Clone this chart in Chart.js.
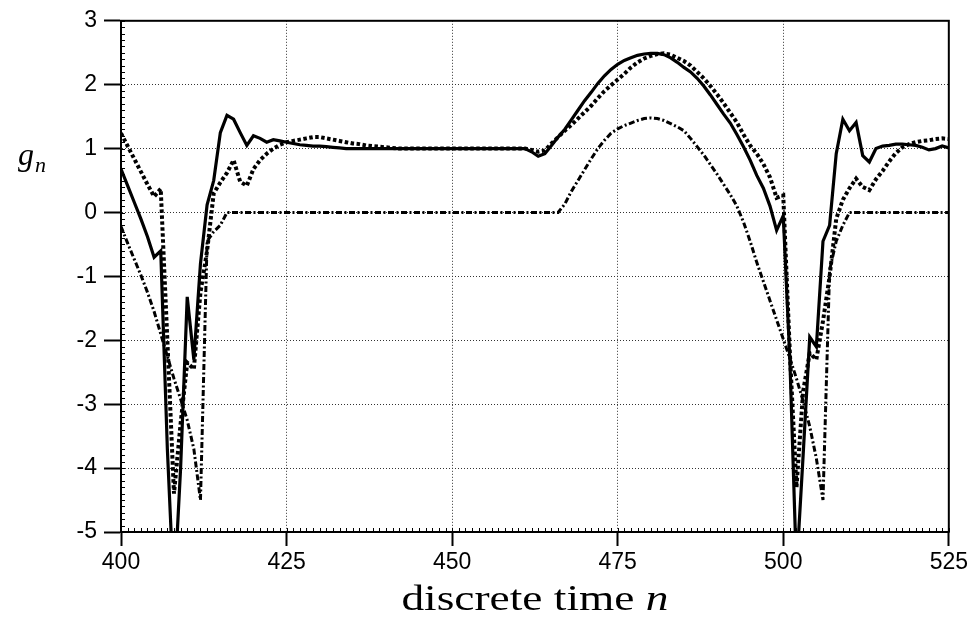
<!DOCTYPE html>
<html>
<head>
<meta charset="utf-8">
<script src="https://cdn.jsdelivr.net/npm/chart.js@4.4.1/dist/chart.umd.min.js"></script>
<style>
  html, body { margin: 0; padding: 0; background: #fff; }
  #wrap { position: relative; width: 971px; height: 624px; }
</style>
</head>
<body>
<div id="wrap"><canvas id="gainChart" width="971" height="624"></canvas></div>
<script>
// discrete time index n
const timeIdx = [
  400, 401, 402, 403, 404, 405, 406, 407, 408, 409, 410, 411, 412, 413, 414, 415, 416, 417, 418, 419,
  420, 421, 422, 423, 424, 425, 426, 427, 428, 429, 430, 431, 432, 433, 434, 435, 436, 437, 438, 439,
  440, 441, 442, 443, 444, 445, 446, 447, 448, 449, 450, 451, 452, 453, 454, 455, 456, 457, 458, 459,
  460, 461, 462, 463, 464, 465, 466, 467, 468, 469, 470, 471, 472, 473, 474, 475, 476, 477, 478, 479,
  480, 481, 482, 483, 484, 485, 486, 487, 488, 489, 490, 491, 492, 493, 494, 495, 496, 497, 498, 499,
  500, 501, 502, 503, 504, 505, 506, 507, 508, 509, 510, 511, 512, 513, 514, 515, 516, 517, 518, 519,
  520, 521, 522, 523, 524, 525
];

// solid curve
const gSolid = [
  0.68, 0.42, 0.16, -0.1, -0.38, -0.7, -0.6, -3.7, -6.0, -4.0, -1.32, -2.3, -0.8, 0.12, 0.5, 1.25, 1.52, 1.46, 1.25, 1.05,
  1.2, 1.16, 1.1, 1.14, 1.12, 1.1, 1.08, 1.06, 1.05, 1.04, 1.04, 1.03, 1.02, 1.01, 1.0, 1.0, 1.0, 1.0, 1.0, 1.0,
  1.0, 1.0, 1.0, 1.0, 1.0, 1.0, 1.0, 1.0, 1.0, 1.0, 1.0, 1.0, 1.0, 1.0, 1.0, 1.0, 1.0, 1.0, 1.0, 1.0,
  1.0, 1.0, 0.95, 0.88, 0.92, 1.05, 1.18, 1.3, 1.45, 1.6, 1.75, 1.88, 2.02, 2.14, 2.24, 2.32, 2.38, 2.42, 2.46, 2.48,
  2.49, 2.49, 2.47, 2.42, 2.35, 2.27, 2.2, 2.1, 1.98, 1.84, 1.69, 1.54, 1.4, 1.22, 1.03, 0.82, 0.58, 0.38, 0.1, -0.28,
  -0.05, -2.3, -5.6, -3.8, -1.95, -2.1, -0.45, -0.2, 0.92, 1.46, 1.28, 1.41, 0.89, 0.79, 1.0, 1.04, 1.05, 1.07, 1.07, 1.06,
  1.05, 1.02, 0.98, 1.0, 1.04, 1.01
];

// dotted curve
const gDotted = [
  1.24, 1.04, 0.84, 0.64, 0.44, 0.25, 0.37, -2.0, -4.4, -3.3, -2.35, -2.45, -1.25, -0.6, 0.3, 0.47, 0.62, 0.82, 0.48, 0.42,
  0.68, 0.82, 0.92, 1.0, 1.06, 1.1, 1.12, 1.14, 1.16, 1.18, 1.18, 1.16, 1.14, 1.12, 1.1, 1.08, 1.07, 1.05, 1.04, 1.03,
  1.02, 1.01, 1.0, 1.0, 1.0, 1.0, 1.0, 1.0, 1.0, 1.0, 1.0, 1.0, 1.0, 1.0, 1.0, 1.0, 1.0, 1.0, 1.0, 1.0,
  1.0, 1.0, 0.98, 0.95, 0.97, 1.08, 1.18, 1.28, 1.37, 1.47, 1.57, 1.67, 1.79, 1.9, 1.99, 2.08, 2.17, 2.27, 2.35, 2.41,
  2.45, 2.48, 2.49, 2.47, 2.42, 2.37, 2.3, 2.2, 2.1, 1.98, 1.85, 1.71, 1.56, 1.41, 1.22, 1.05, 0.92, 0.76, 0.55, 0.23,
  0.27, -2.2, -4.3, -2.8, -2.2, -2.3, -1.7, -1.0, -0.1, 0.2, 0.38, 0.53, 0.4, 0.35, 0.52, 0.65, 0.8, 0.93, 1.02, 1.07,
  1.1, 1.12, 1.13, 1.15, 1.16, 1.15
];

// dash-dot curve
const gDashDot = [
  -0.22, -0.48, -0.73, -0.98, -1.25, -1.55, -1.9, -2.25, -2.6, -2.92, -3.25, -3.7, -4.5, -0.45, -0.3, -0.2, 0.0, 0.0, 0.0, 0.0,
  0.0, 0.0, 0.0, 0.0, 0.0, 0.0, 0.0, 0.0, 0.0, 0.0, 0.0, 0.0, 0.0, 0.0, 0.0, 0.0, 0.0, 0.0, 0.0, 0.0,
  0.0, 0.0, 0.0, 0.0, 0.0, 0.0, 0.0, 0.0, 0.0, 0.0, 0.0, 0.0, 0.0, 0.0, 0.0, 0.0, 0.0, 0.0, 0.0, 0.0,
  0.0, 0.0, 0.0, 0.0, 0.0, 0.0, 0.0, 0.13, 0.33, 0.5, 0.67, 0.84, 1.0, 1.13, 1.24, 1.31, 1.36, 1.4, 1.44, 1.47,
  1.48, 1.47, 1.44, 1.39, 1.34, 1.28, 1.16, 1.03, 0.9, 0.75, 0.6, 0.44, 0.28, 0.1, -0.15, -0.45, -0.78, -1.08, -1.38, -1.68,
  -1.98, -2.28, -2.6, -2.95, -3.35, -3.85, -4.5, -0.9, -0.45, -0.2, 0.0, 0.0, 0.0, 0.0, 0.0, 0.0, 0.0, 0.0, 0.0, 0.0,
  0.0, 0.0, 0.0, 0.0, 0.0, 0.0
];

const xTicks = [400, 425, 450, 475, 500, 525];
const yTicks = [3, 2, 1, 0, -1, -2, -3, -4, -5];

const toPoints = arr => arr.map((v, i) => ({ x: timeIdx[i], y: v }));

// frame, minor ticks and axis texts
const frameAndLabels = {
    id: 'frameAndLabels',
    afterDraw(chart) {
        const { ctx, chartArea: a, scales } = chart;
        ctx.save();

        // minor ticks inside the frame
        ctx.strokeStyle = '#000';
        ctx.lineWidth = 1;
        ctx.beginPath();
        for (let k = -50; k <= 30; k++) {
            const y = Math.round(scales.y.getPixelForValue(k / 10)) + 0.5;
            ctx.moveTo(a.left, y);
            ctx.lineTo(a.left + 4, y);
        }
        for (let n = 400; n <= 525; n++) {
            const x = Math.round(scales.x.getPixelForValue(n)) + 0.5;
            ctx.moveTo(x, a.bottom);
            ctx.lineTo(x, a.bottom - 4);
        }
        ctx.stroke();

        // box
        ctx.lineWidth = 2;
        ctx.strokeRect(a.left, a.top, a.right - a.left, a.bottom - a.top);

        // x title: "discrete time n" (slightly widened serif)
        ctx.fillStyle = '#000';
        ctx.textBaseline = 'alphabetic';
        const fontUp = '36px "Liberation Serif"';
        const fontIt = 'italic 36px "Liberation Serif"';
        const stretch = 1.26;
        ctx.font = fontUp;
        const w1 = ctx.measureText('discrete time ').width;
        ctx.font = fontIt;
        const w2 = ctx.measureText('n').width;
        const x0 = (a.left + a.right) / 2 - stretch * (w1 + w2) / 2;
        ctx.save();
        ctx.translate(x0, 610);
        ctx.scale(stretch, 1);
        ctx.font = fontUp;
        ctx.fillText('discrete time ', 0, 0);
        ctx.font = fontIt;
        ctx.fillText('n', w1, 0);
        ctx.restore();

        // y title: g_n
        ctx.font = 'italic 32px "Liberation Serif"';
        ctx.fillText('g', 18, 165);
        const gw = ctx.measureText('g').width;
        ctx.font = 'italic 22px "Liberation Serif"';
        ctx.fillText('n', 18 + gw + 1, 172);

        ctx.restore();
    }
};

const ctx = document.getElementById('gainChart').getContext('2d');

new Chart(ctx, {
    type: 'line',
    data: {
        datasets: [
            {
                label: 'solid',
                data: toPoints(gSolid),
                borderColor: '#000',
                borderWidth: 3.2,
                pointRadius: 0,
                tension: 0,
                fill: false
            },
            {
                label: 'dotted',
                data: toPoints(gDotted),
                borderColor: '#000',
                borderWidth: 4,
                borderDash: [3.5, 2.5],
                pointRadius: 0,
                tension: 0,
                fill: false
            },
            {
                label: 'dashdot',
                data: toPoints(gDashDot),
                borderColor: '#000',
                borderWidth: 3,
                borderDash: [6, 2.5, 2, 2.5],
                pointRadius: 0,
                tension: 0,
                fill: false
            }
        ]
    },
    options: {
        responsive: false,
        animation: false,
        devicePixelRatio: 1,
        layout: { padding: { left: 0, right: 22, top: 20, bottom: 0 } },
        plugins: {
            legend: { display: false },
            tooltip: { enabled: false }
        },
        scales: {
            x: {
                type: 'linear',
                min: 400,
                max: 525,
                afterBuildTicks: scale => { scale.ticks = xTicks.map(v => ({ value: v })); },
                afterFit: scale => { scale.height = 92; },
                grid: {
                    color: '#333',
                    lineWidth: 1,
                    tickLength: 14,
                    tickColor: '#000',
                    tickWidth: 2
                },
                border: { display: true, color: '#000', width: 2, dash: [1, 2] },
                ticks: {
                    color: '#000',
                    padding: 3,
                    maxRotation: 0,
                    font: { family: '"Liberation Sans", Arial, sans-serif', size: 23 }
                }
            },
            y: {
                type: 'linear',
                min: -5,
                max: 3,
                afterBuildTicks: scale => { scale.ticks = yTicks.map(v => ({ value: v })); },
                afterFit: scale => { scale.width = 121; },
                grid: {
                    color: '#333',
                    lineWidth: 1,
                    tickLength: 17,
                    tickColor: '#000',
                    tickWidth: 2
                },
                border: { display: true, color: '#000', width: 2, dash: [1, 2] },
                ticks: {
                    color: '#000',
                    padding: 7,
                    font: { family: '"Liberation Sans", Arial, sans-serif', size: 23 }
                }
            }
        }
    },
    plugins: [frameAndLabels]
});
</script>
</body>
</html>
